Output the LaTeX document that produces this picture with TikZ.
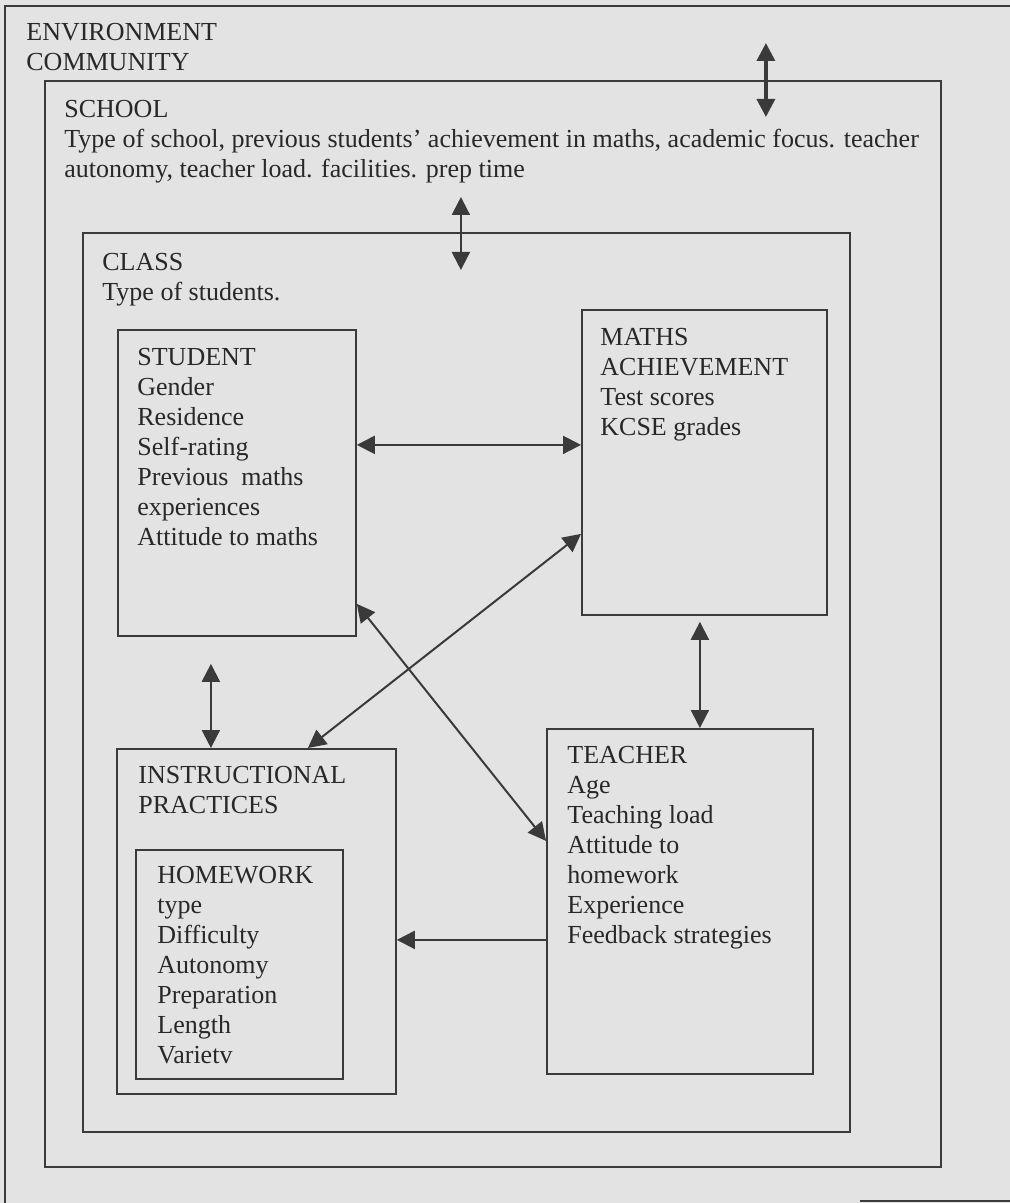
\documentclass[tikz,border=0pt]{standalone}
\usepackage{fontspec}
\setmainfont{Liberation Serif}
\usetikzlibrary{arrows.meta}
\definecolor{paper}{RGB}{227,227,227}
\definecolor{ink}{RGB}{58,58,58}
\definecolor{pen}{RGB}{40,40,40}
\tikzstyle{frame}=[draw=ink,line width=0.9pt]
\tikzstyle{box}=[rectangle,frame,inner sep=0pt,anchor=north west]
\tikzstyle{txt}=[anchor=north west,align=left,inner sep=0pt,text=pen,font=\fontsize{13}{15}\selectfont]
\tikzstyle{link}=[{Triangle[length=9pt,width=9pt]}-{Triangle[length=9pt,width=9pt]},line width=1pt,draw=ink]
\tikzstyle{feeds}=[-{Triangle[length=9pt,width=9pt]},line width=1pt,draw=ink]

\begin{document}
\begin{tikzpicture}[x=0.5pt,y=-0.5pt]
\useasboundingbox (0,0) rectangle (1010,1203);
\fill[paper] (0,0) rectangle (1010,1203);

% environment frame runs off the page
\draw[frame] (1010,6) -- (5,6) -- (5,1203);
\draw[frame] (860,1201) -- (1010,1201);
\node (env) [txt] at (26,23) {ENVIRONMENT\\COMMUNITY};

% nested levels
\node (school) [box,minimum width=448pt,minimum height=543pt] at (44,80) {};
\node (class) [box,minimum width=383.5pt,minimum height=449.5pt] at (82,232) {};
\node (student) [box,minimum width=119pt,minimum height=153pt] at (117,329) {};
\node (maths) [box,minimum width=122.5pt,minimum height=152.5pt] at (581,309) {};
\node (teacher) [box,minimum width=133pt,minimum height=172.5pt] at (546,728) {};
\node (instr) [box,minimum width=139.5pt,minimum height=172.5pt] at (116,748) {};
\node (homework) [box,minimum width=103.5pt,minimum height=114.5pt] at (135,849) {};

\node (school-txt) [txt] at ([shift={(10pt,-9.9pt)}]school.north west)
  {SCHOOL\\Type of school, previous students’ achievement in maths, academic focus. teacher\\autonomy, teacher load. facilities. prep time};
\node (class-txt) [txt] at ([shift={(10pt,-10.4pt)}]class.north west) {CLASS\\Type of students.};
\node (student-txt) [txt] at ([shift={(10pt,-9.4pt)}]student.north west)
  {STUDENT\\Gender\\Residence\\Self-rating\\Previous~~maths\\experiences\\Attitude to maths};
\node (maths-txt) [txt] at ([shift={(9.5pt,-9.4pt)}]maths.north west)
  {MATHS\\ACHIEVEMENT\\Test scores\\KCSE grades};
\node (teacher-txt) [txt] at ([shift={(10.5pt,-8.9pt)}]teacher.north west)
  {TEACHER\\Age\\Teaching load\\Attitude to\\homework\\Experience\\Feedback strategies};
\node (instr-txt) [txt] at ([shift={(11pt,-8.9pt)}]instr.north west) {INSTRUCTIONAL\\PRACTICES};
\node (homework-txt) [txt] at ([shift={(11pt,-8.4pt)}]homework.north west)
  {HOMEWORK\\type\\Difficulty\\Autonomy\\Preparation\\Length\\Varietv};

% links between levels
\draw [link,line width=1.7pt] ([shift={(136.5pt,18.5pt)}]school.north) -- ([shift={(136.5pt,-18.5pt)}]school.north);
\draw [link] ([shift={(-2.75pt,17.5pt)}]class.north) -- ([shift={(-2.75pt,-19pt)}]class.north);

% links inside the class
\draw [link] ([yshift=19pt]student.east) -- ([yshift=8.75pt]maths.west);
\draw [link] ([xshift=25.75pt]instr.north) -- ([yshift=-35.75pt]maths.west);
\draw [link] ([yshift=-60.5pt]student.east) -- ([yshift=30.25pt]teacher.west);
\draw [link] ([shift={(-2.25pt,-3pt)}]maths.south) -- ([xshift=10pt]teacher.north);
\draw [link] ([shift={(-13pt,-13.5pt)}]student.south) -- ([xshift=-22.75pt]instr.north);
\draw [feeds] ([yshift=-19.25pt]teacher.west) -- ([yshift=-9.25pt]instr.east);

\end{tikzpicture}
\end{document}
